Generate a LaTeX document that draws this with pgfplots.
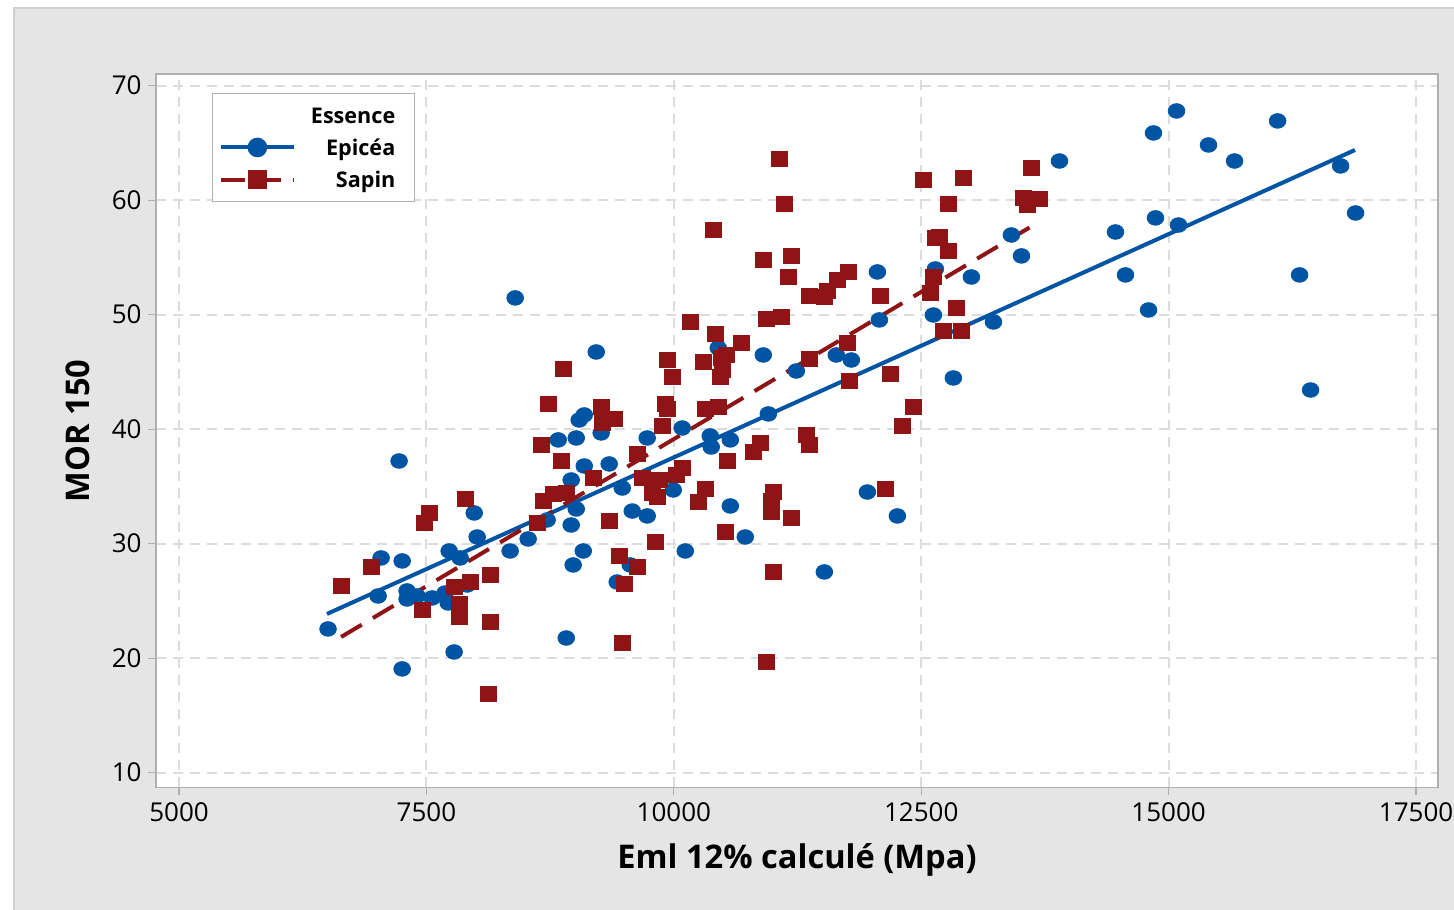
\documentclass[border=0pt]{standalone}
\usepackage{fontspec}
\setmainfont{Open Sans}
\usepackage{pgfplots}
\pgfplotsset{compat=1.18}

\definecolor{epblue}{RGB}{0,84,164}
\definecolor{sapred}{RGB}{142,20,22}
\definecolor{bggray}{RGB}{229,229,229}
\definecolor{bgline}{RGB}{208,208,208}
\definecolor{gridgray}{RGB}{220,220,220}
\definecolor{axisgray}{RGB}{175,175,175}

\begin{document}
\begin{tikzpicture}
\useasboundingbox (-78pt,-60.85pt) rectangle (649pt,393.65pt);
\fill[white] (-78pt,-60.85pt) rectangle (649pt,393.65pt);
\filldraw[fill=bggray, draw=bgline, line width=0.6pt] (-71pt,-64pt) rectangle (652pt,389.65pt);
\begin{axis}[
    scale only axis,
    width=641pt, height=356.65pt,
    xmin=4767.6, xmax=17722,
    ymin=8.72, ymax=71.02,
    xtick={5000,7500,...,17500},
    ytick={10,20,...,70},
    scaled x ticks=false,
    xtick pos=bottom, ytick pos=left,
    tick align=outside,
    major tick length=4pt,
    tick style={draw=axisgray, line width=0.6pt},
    axis line style={draw=axisgray, line width=0.6pt},
    axis background/.style={fill=white},
    grid=major,
    major grid style={draw=gridgray, line width=1pt, dash pattern=on 5pt off 3.5pt},
    /pgf/number format/assume math mode=true,
    /pgf/number format/1000 sep={},
    ticklabel style={font=\fontsize{13}{15}\selectfont, inner sep=0pt},
    xticklabel style={anchor=base, yshift=-12.85pt},
    yticklabel style={anchor=east, xshift=-3pt},
    xlabel={Eml 12\% calculé (Mpa)},
    ylabel={MOR 150},
    label style={font=\bfseries\fontsize{16.3}{19}\selectfont, inner sep=0pt},
    xlabel style={at={(axis description cs:0.5,0)}, anchor=base, yshift=-40.35pt},
    ylabel style={at={(axis description cs:-0.05148,0.4995)}, anchor=base},
    legend image code/.code={\draw[#1,mark repeat=2,mark phase=2] plot coordinates {(0pt,0pt) (18.25pt,0pt) (36.5pt,0pt)};},
    legend cell align=right,
    legend style={
        at={(axis description cs:0.04345,0.9738)}, anchor=north west,
        draw=axisgray, line width=0.6pt, fill=white,
        inner xsep=3.3pt, inner ysep=6.9pt,
        row sep=7.9pt,
        font=\bfseries\fontsize{10.8}{13}\selectfont,
        nodes={inner sep=0pt, text height=8.2pt, text depth=0pt},
        /tikz/every odd column/.append style={column sep=7.5pt},
    },
]

% droites d'ajustement
\addplot[epblue, line width=2pt, forget plot] coordinates {(6495,23.86) (16883,64.38)};
\addplot[sapred, line width=2pt, dash pattern=on 12pt off 6.5pt, forget plot] coordinates {(6638,21.85) (13690,58.1)};

% Epicéa
\addplot[only marks, mark=*, color=epblue, mark size=3.9pt,
    mark options={fill=epblue, draw=epblue, xscale=1.07, yscale=0.94}, forget plot] coordinates {
(6506,22.55) (7012,25.43) (7042,28.75) (7224,37.22) (7255,28.49) (7255,19.06)
(7305,25.87) (7305,25.17) (7406,25.43) (7558,25.26) (7689,25.69) (7720,24.82)
(7730,29.36) (7780,20.54) (7841,28.75) (7912,26.39) (7983,32.68) (8013,30.58)
(8346,29.36) (8397,51.46) (8528,30.41) (8720,32.07) (8832,39.06) (8913,21.76)
(8963,35.56) (8963,31.63) (8983,28.14) (9014,39.23) (9014,33.03) (9095,41.24)
(9044,40.80) (9095,36.78) (9085,29.36) (9216,46.74) (9266,39.67) (9347,36.96)
(9428,26.65) (9479,34.86) (9580,32.85) (9560,28.14) (9731,32.42) (9731,39.23)
(9994,34.69) (10085,40.10) (10116,29.36) (10368,39.41) (10378,38.44) (10449,47.09)
(10571,39.06) (10571,33.29) (10722,30.58) (10904,46.48) (10955,41.33) (11238,45.08)
(11521,27.53) (11642,46.48) (11794,46.04) (11956,34.51) (12057,53.73) (12077,49.54)
(12259,32.42) (12643,53.99) (12623,49.97) (12825,44.47) (13007,53.29) (13230,49.36)
(13411,56.96) (13513,55.13) (13897,63.42) (14463,57.22) (14564,53.47) (14797,50.41)
(14847,65.87) (14867,58.45) (15080,67.79) (15100,57.83) (15403,64.82) (15666,63.42)
(16101,66.92) (16323,53.47) (16434,43.42) (16738,62.99) (16889,58.88)
};

% Sapin
\addplot[only marks, mark=square*, color=sapred, mark size=3.8pt,
    mark options={fill=sapred, draw=sapred, xscale=1.05, yscale=0.95}, forget plot] coordinates {
(6638,26.30) (6941,27.97) (7477,31.80) (7527,32.68) (7457,24.21) (7780,26.22)
(7831,24.73) (7831,23.60) (7892,33.90) (7942,26.65) (8144,27.27) (8144,23.16)
(8124,16.87) (8620,31.80) (8680,33.73) (8660,38.62) (8731,42.20) (8781,34.34)
(8862,37.22) (8913,34.43) (8882,45.26) (9186,35.74) (9266,41.94) (9276,40.54)
(9398,40.89) (9347,31.98) (9449,28.92) (9499,26.48) (9479,21.32) (9631,37.83)
(9631,27.96) (9681,35.74) (9812,30.15) (9782,34.43) (9833,34.08) (9853,35.56)
(9883,40.28) (9913,42.20) (9934,41.76) (9934,46.04) (9984,44.56) (10025,36.00)
(10085,36.61) (10166,49.36) (10247,33.64) (10298,45.87) (10318,34.78) (10318,41.76)
(10399,57.40) (10419,48.31) (10449,41.94) (10469,44.56) (10490,45.17) (10479,46.22)
(10530,46.48) (10520,31.02) (10540,37.22) (10682,47.53) (10803,38.00) (10874,38.79)
(10904,54.78) (10935,49.62) (10985,33.73) (10985,32.77) (11005,34.51) (11005,27.53)
(10935,19.67) (11066,63.60) (11086,49.80) (11116,59.67) (11157,53.29) (11187,55.13)
(11187,32.24) (11339,39.49) (11369,38.62) (11369,51.63) (11369,46.13) (11521,51.55)
(11551,52.07) (11652,53.03) (11753,47.53) (11763,53.73) (11774,44.21) (12087,51.63)
(12138,34.78) (12188,44.82) (12310,40.28) (12421,41.94) (12522,61.77) (12593,51.90)
(12623,53.29) (12643,56.70) (12684,56.79) (12724,48.58) (12775,59.67) (12775,55.56)
(12856,50.58) (12906,48.58) (12926,61.94) (13533,60.19) (13573,59.58) (13614,62.81)
(13695,60.10)
};

\addlegendimage{empty legend}
\addlegendentry{Essence\kern6.4pt}
\addlegendimage{epblue, line width=2pt, mark=*, mark size=3.9pt, mark options={solid, fill=epblue, draw=epblue}}
\addlegendentry{Epicéa\kern6.4pt}
\addlegendimage{sapred, line width=2pt, dash pattern=on 12pt off 6pt, mark=square*, mark size=3.8pt, mark options={solid, fill=sapred, draw=sapred}}
\addlegendentry{Sapin\kern6.4pt}
\end{axis}
\end{tikzpicture}
\end{document}
